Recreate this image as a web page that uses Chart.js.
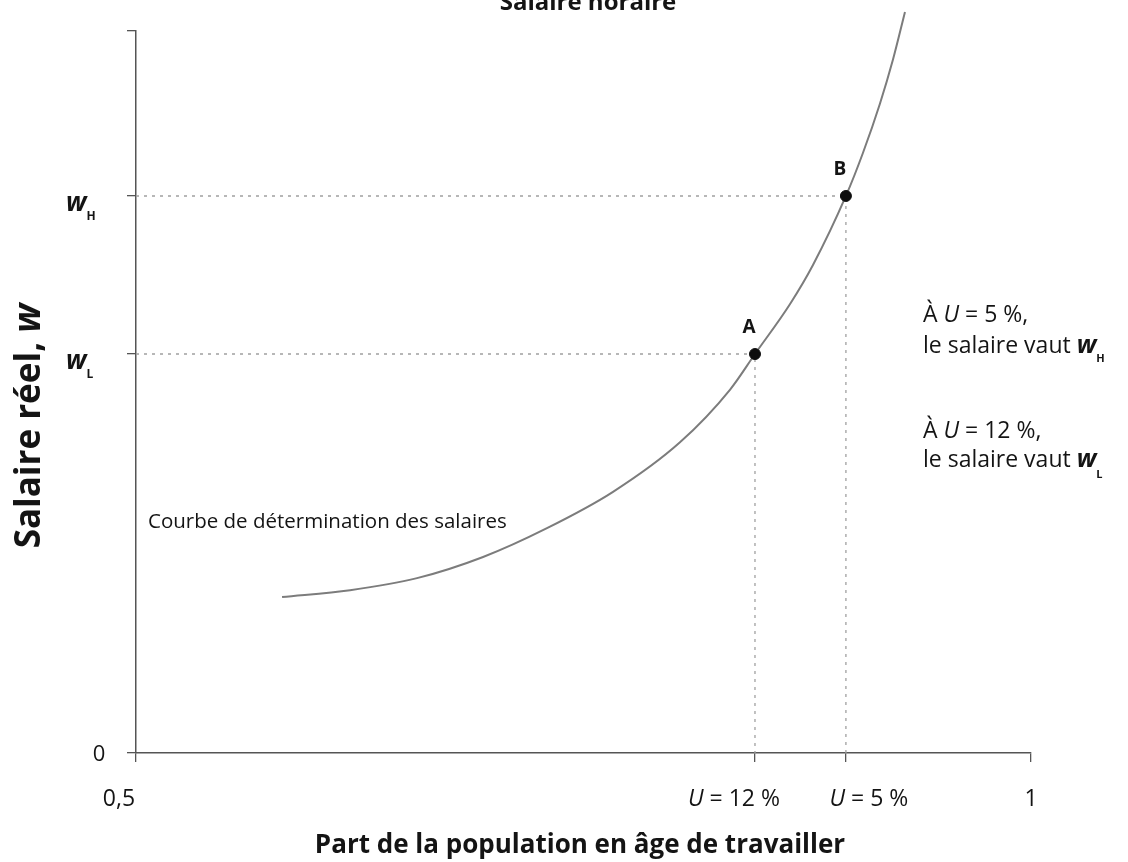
<!DOCTYPE html>
<html>
<head>
<meta charset="utf-8">
<script src="https://cdn.jsdelivr.net/npm/chart.js@4/dist/chart.umd.min.js"></script>
<style>
  html, body { margin: 0; background: #fff; }
</style>
</head>
<body>
<canvas id="chart" width="1128" height="862"></canvas>
<script>
// wage-setting curve
const curveX = [0.5816, 0.6196, 0.6570, 0.6939, 0.7296, 0.7665, 0.8039, 0.8318, 0.8458, 0.8654, 0.8782, 0.8966, 0.9061, 0.9156, 0.9229, 0.9296];
const curveY = [0.2161, 0.2255, 0.2422, 0.2715, 0.3114, 0.3617, 0.4303, 0.5030, 0.5526, 0.6219, 0.6759, 0.7715, 0.8310, 0.8993, 0.9605, 1.0263];

const pointNames = ['A', 'B'];
const pointX = [0.8458, 0.8966];
const pointY = [0.5526, 0.7715];

const xTicks = [0.5, 0.8458, 0.8966, 1];
const xTickLabels = ['0,5', 'U = 12 %', 'U = 5 %', '1'];
const yTicks = [0, 0.5526, 0.7715, 1];
const yTickLabels = ['0', 'wL', 'wH', ''];

const FF = "'Open Sans', 'DejaVu Sans', sans-serif";
const INK = '#141414';

function font(size, bold, italic) {
  return (italic ? 'italic ' : '') + (bold ? 'bold ' : '') + size + 'px ' + FF;
}

// segs: [text, size, bold, italic, dy]
function rich(ctx, x, y, segs, align) {
  let w = 0;
  segs.forEach(s => { ctx.font = font(s[1], s[2], s[3]); w += ctx.measureText(s[0]).width; });
  let cx = align === 'center' ? x - w / 2 : align === 'right' ? x - w : x;
  ctx.textAlign = 'left';
  ctx.textBaseline = 'alphabetic';
  segs.forEach(s => {
    ctx.font = font(s[1], s[2], s[3]);
    ctx.fillText(s[0], cx, y + (s[4] || 0));
    cx += ctx.measureText(s[0]).width;
  });
}

function uLabel(txt, size) {
  if (txt.startsWith('U')) return [['U', size, false, true], [txt.slice(1), size, false, false]];
  return [[txt, size, false, false]];
}

const xLabelShift = [-17, -21, 23, 0];

const textPlugin = {
  id: 'texts',
  afterDraw(chart) {
    const ctx = chart.ctx;
    const xs = chart.scales.x, ys = chart.scales.y;
    ctx.save();
    ctx.fillStyle = INK;

    // title (cut at the top edge like the scan)
    rich(ctx, 588, 10, [['Salaire horaire', 24, true, false]], 'center');

    // x tick labels
    xTicks.forEach((v, i) => {
      rich(ctx, xs.getPixelForValue(v) + xLabelShift[i], 806, uLabel(xTickLabels[i], 23), 'center');
    });

    // y tick labels
    yTicks.forEach((v, i) => {
      const lab = yTickLabels[i];
      if (!lab) return;
      const py = ys.getPixelForValue(v);
      if (lab.length === 1) {
        rich(ctx, 99, py + 8, [[lab, 22, false, false]], 'center');
      } else {
        rich(ctx, 66, py + 15, [[lab[0], 26, true, true], [lab.slice(1), 12, true, false, 9]], 'left');
      }
    });

    // point names
    pointNames.forEach((n, i) => {
      const px = xs.getPixelForValue(pointX[i]), py = ys.getPixelForValue(pointY[i]);
      rich(ctx, px - 6, py - 21, [[n, 19, true, false]], 'center');
    });

    // curve caption
    rich(ctx, 148, 528, [['Courbe de détermination des salaires', 20.5, false, false]], 'left');

    // notes on the right
    rich(ctx, 923, 322, [['À ', 23, false, false], ['U', 23, false, true], [' = 5 %,', 23, false, false]], 'left');
    rich(ctx, 923, 353, [['le salaire vaut ', 23, false, false], ['w', 25, true, true], ['H', 11, true, false, 9]], 'left');
    rich(ctx, 923, 438, [['À ', 23, false, false], ['U', 23, false, true], [' = 12 %,', 23, false, false]], 'left');
    rich(ctx, 923, 467, [['le salaire vaut ', 23, false, false], ['w', 25, true, true], ['L', 11, true, false, 11]], 'left');

    // axis titles
    rich(ctx, 580, 853, [['Part de la population en âge de travailler', 26, true, false]], 'center');
    ctx.save();
    ctx.translate(40, 426);
    ctx.rotate(-Math.PI / 2);
    rich(ctx, 0, 0, [['Salaire réel, ', 35, true, false], ['w', 37, true, true]], 'center');
    ctx.restore();

    ctx.restore();
  }
};

const guide = i => [
  { x: xTicks[0], y: pointY[i] },
  { x: pointX[i], y: pointY[i] },
  { x: pointX[i], y: 0 }
];

new Chart(document.getElementById('chart'), {
  type: 'scatter',
  data: {
    datasets: [
      {
        data: pointX.map((x, i) => ({ x, y: pointY[i] })),
        pointRadius: 5.5,
        pointBackgroundColor: '#0d0d0d',
        pointBorderColor: '#0d0d0d',
        showLine: false
      },
      {
        data: curveX.map((x, i) => ({ x, y: curveY[i] })),
        showLine: true,
        cubicInterpolationMode: 'monotone',
        borderColor: '#7c7c7c',
        borderWidth: 2,
        pointRadius: 0,
        clip: false
      },
      {
        data: guide(0),
        showLine: true,
        borderColor: '#a0a0a0',
        borderWidth: 1.3,
        borderDash: [3, 5],
        pointRadius: 0
      },
      {
        data: guide(1),
        showLine: true,
        borderColor: '#a0a0a0',
        borderWidth: 1.3,
        borderDash: [3, 5],
        pointRadius: 0
      }
    ]
  },
  options: {
    responsive: false,
    animation: false,
    layout: { padding: { top: 31, right: 97, left: 0, bottom: 0 } },
    plugins: { legend: { display: false }, tooltip: { enabled: false } },
    scales: {
      x: {
        type: 'linear', min: 0.5, max: 1,
        afterBuildTicks: s => { s.ticks = xTicks.map(v => ({ value: v })); },
        afterFit: s => { s.height = 109; },
        ticks: { display: false },
        grid: { drawOnChartArea: false, drawTicks: true, tickLength: 9, color: '#555', lineWidth: 1.3 },
        border: { color: '#555', width: 1.5 }
      },
      y: {
        type: 'linear', min: 0, max: 1,
        afterBuildTicks: s => { s.ticks = yTicks.map(v => ({ value: v })); },
        afterFit: s => { s.width = 136; },
        ticks: { display: false },
        grid: { drawOnChartArea: false, drawTicks: true, tickLength: 9, color: '#555', lineWidth: 1.3 },
        border: { color: '#555', width: 1.5 }
      }
    }
  },
  plugins: [textPlugin]
});
</script>
</body>
</html>
